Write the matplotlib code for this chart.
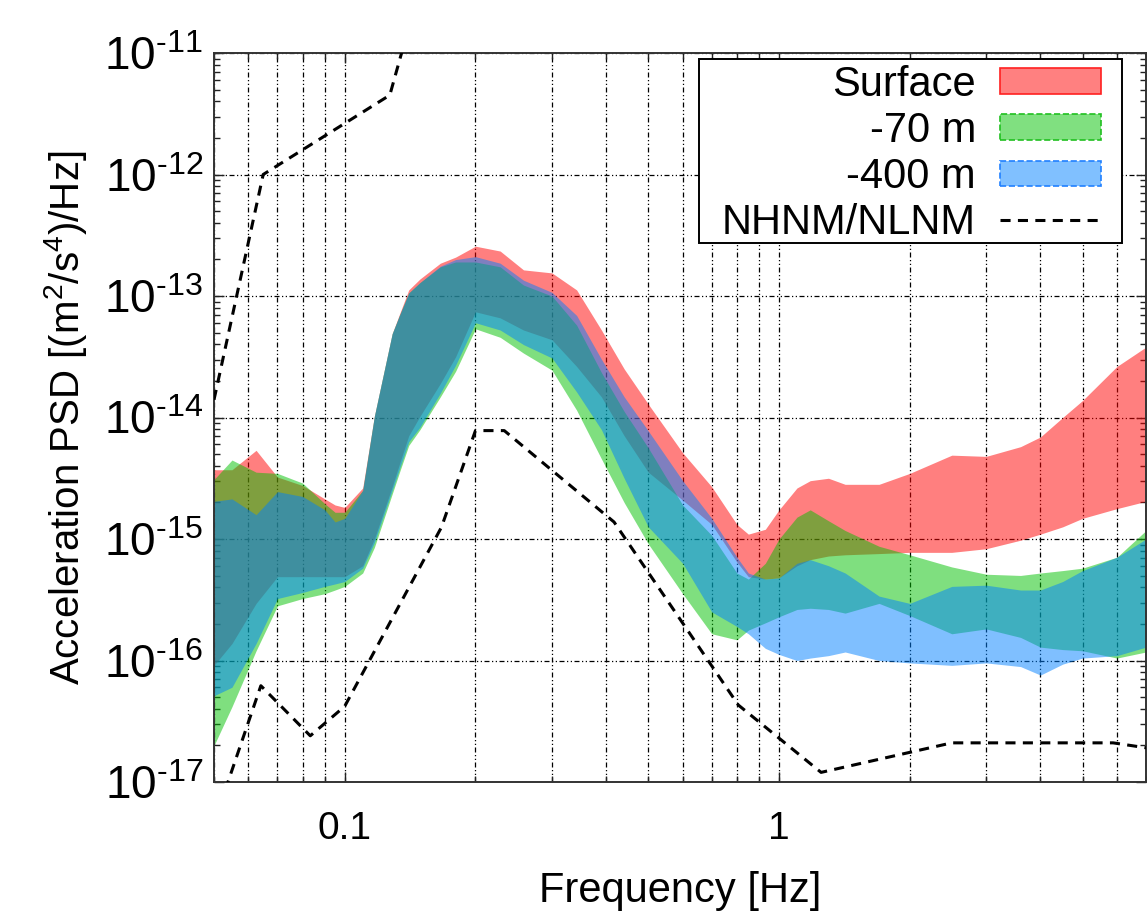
import numpy as np
import matplotlib
matplotlib.use("Agg")
import matplotlib.pyplot as plt
from matplotlib.patches import Patch, Rectangle
from matplotlib.lines import Line2D
from matplotlib.ticker import FixedLocator, NullFormatter, LogLocator

plt.rcParams['font.family'] = ['Liberation Sans', 'DejaVu Sans']
plt.rcParams['mathtext.fontset'] = 'custom'
plt.rcParams['mathtext.rm'] = 'Liberation Sans'
plt.rcParams['mathtext.it'] = 'Liberation Sans'

# ---------------- data (frequency in Hz, PSD given as log10 values) ----------------
freq = [0.05, 0.055, 0.0625, 0.07, 0.08, 0.09, 0.095, 0.1, 0.11, 0.117, 0.1286, 0.134,
        0.1404, 0.149, 0.166, 0.18, 0.2, 0.228, 0.258, 0.30, 0.342, 0.39, 0.44, 0.5,
        0.6, 0.7, 0.8, 0.85, 0.93, 1.0, 1.1, 1.18, 1.3, 1.42, 1.7, 2.0, 2.5, 3.0, 3.6,
        4.0, 4.5, 5.0, 6.0, 7.0]

surface_upper = [-14.43, -14.43, -14.27, -14.49, -14.56, -14.67, -14.72, -14.74, -14.58, -13.99,
                 -13.31, -13.14, -12.95, -12.86, -12.73, -12.68, -12.59, -12.63, -12.785, -12.81,
                 -12.95, -13.28, -13.60, -13.89, -14.29, -14.57, -14.88, -14.96, -14.92, -14.76,
                 -14.58, -14.52, -14.50, -14.55, -14.55, -14.46, -14.31, -14.32, -14.24, -14.16,
                 -14.00, -13.86, -13.58, -13.42]
surface_lower = [-16.04, -15.86, -15.53, -15.31, -15.31, -15.31, -15.31, -15.31, -15.22, -15.00,
                 -14.57, -14.37, -14.15, -13.99, -13.72, -13.50, -13.13, -13.18, -13.28, -13.36,
                 -13.58, -13.83, -14.15, -14.45, -14.68, -14.88, -15.19, -15.31, -15.33, -15.32,
                 -15.22, -15.17, -15.14, -15.13, -15.12, -15.11, -15.11, -15.08, -15.01, -14.96,
                 -14.90, -14.83, -14.75, -14.69]

m70_upper = [-14.51, -14.35, -14.45, -14.46, -14.54, -14.71, -14.78, -14.78, -14.60, -13.99,
             -13.31, -13.15, -12.975, -12.89, -12.76, -12.72, -12.72, -12.76, -12.91, -13.00,
             -13.24, -13.63, -13.95, -14.25, -14.72, -14.97, -15.28, -15.33, -15.20, -15.00,
             -14.82, -14.76, -14.85, -14.93, -15.06, -15.13, -15.23, -15.29, -15.30, -15.28,
             -15.26, -15.24, -15.15, -14.93]
m70_lower = [-16.70, -16.38, -15.92, -15.55, -15.49, -15.45, -15.42, -15.39, -15.28, -15.07,
             -14.63, -14.44, -14.23, -14.10, -13.83, -13.62, -13.27, -13.34, -13.47, -13.61,
             -13.94, -14.34, -14.70, -15.04, -15.45, -15.78, -15.83, -15.75, -15.69, -15.64,
             -15.58, -15.57, -15.58, -15.61, -15.53, -15.63, -15.78, -15.74, -15.81, -15.89,
             -15.91, -15.92, -15.98, -15.93]

m400_upper = [-14.69, -14.67, -14.80, -14.61, -14.65, -14.76, -14.86, -14.83, -14.60, -13.99,
              -13.31, -13.15, -12.975, -12.89, -12.755, -12.70, -12.676, -12.73, -12.87, -12.97,
              -13.16, -13.52, -13.83, -14.11, -14.52, -14.83, -15.15, -15.28, -15.33, -15.32,
              -15.20, -15.17, -15.22, -15.28, -15.47, -15.53, -15.39, -15.38, -15.42, -15.42,
              -15.35, -15.26, -15.15, -15.00]
m400_lower = [-16.29, -16.22, -15.86, -15.49, -15.44, -15.39, -15.37, -15.35, -15.24, -15.03,
              -14.60, -14.41, -14.20, -14.08, -13.80, -13.57, -13.22, -13.28, -13.40, -13.51,
              -13.79, -14.10, -14.50, -14.90, -15.20, -15.60, -15.72, -15.78, -15.90, -15.95,
              -16.00, -15.98, -15.96, -15.93, -16.00, -16.02, -16.04, -16.02, -16.05, -16.12,
              -16.03, -15.98, -15.96, -15.89]

nhnm_freq = [0.05, 0.0649, 0.127, 0.159]
nhnm_psd = [1.4e-14, 1.0e-12, 4.5e-12, 8.0e-11]
nlnm_freq = [0.0457, 0.0641, 0.0833, 0.1, 0.167, 0.2, 0.233, 0.417, 0.806, 1.25, 2.5, 5.88, 10.0]
nlnm_psd = [1.8e-18, 6.2e-17, 2.4e-17, 4.2e-17, 1.25e-15, 7.8e-15, 7.8e-15, 1.38e-15,
            4.3e-17, 1.2e-17, 2.1e-17, 2.1e-17, 1.58e-17]

band_labels = ['Surface', '-70 m', '-400 m']
model_label = 'NHNM/NLNM'
ytick_values = [1e-17, 1e-16, 1e-15, 1e-14, 1e-13, 1e-12, 1e-11]
ytick_labels = ['10$^{\\text{-}17}$', '10$^{\\text{-}16}$', '10$^{\\text{-}15}$', '10$^{\\text{-}14}$',
                '10$^{\\text{-}13}$', '10$^{\\text{-}12}$', '10$^{\\text{-}11}$']
xtick_values = [0.1, 1]
xtick_labels = ['0.1', '1']

# ---------------- figure ----------------
W, H = 1147, 911
fig = plt.figure(figsize=(W / 100, H / 100), dpi=100)
ax = fig.add_axes([214 / W, 1 - 782 / H, (1146 - 214) / W, (782 - 53) / H])
ax.set_xscale('log')
ax.set_yscale('log')
ax.set_xlim(0.05, 7.0)
ax.set_ylim(1e-17, 1e-11)

f = np.array(freq)
face = {'Surface': '#ff0000', '-70 m': '#00c000', '-400 m': '#0080ff'}
bands = [(surface_lower, surface_upper), (m70_lower, m70_upper), (m400_lower, m400_upper)]
for lab, (lo, up) in zip(band_labels, bands):
    ax.fill_between(f, 10.0 ** np.array(lo), 10.0 ** np.array(up), color=face[lab],
                    alpha=0.5, lw=0, zorder=2)

dash = (0, (3.3, 2.4))
ax.plot(nhnm_freq, nhnm_psd, color='black', lw=2.2, linestyle=dash, zorder=3)
ax.plot(nlnm_freq, nlnm_psd, color='black', lw=2.2, linestyle=dash, zorder=3)

# ticks / grid
ax.set_axisbelow(True)
ax.xaxis.set_major_locator(FixedLocator(xtick_values))
ax.xaxis.set_minor_locator(LogLocator(base=10, subs=np.arange(2, 10)))
ax.xaxis.set_minor_formatter(NullFormatter())
ax.set_xticks(xtick_values)
ax.set_xticklabels(xtick_labels)
ax.set_yticks(ytick_values)
ax.set_yticklabels(ytick_labels)
ax.yaxis.set_minor_locator(LogLocator(base=10, subs=np.arange(2, 10)))
ax.yaxis.set_minor_formatter(NullFormatter())

gls = (0, (4, 2, 1, 2, 1, 2))
ax.grid(True, which='major', axis='both', color='black', lw=0.9, linestyle=gls)
ax.grid(True, which='minor', axis='x', color='black', lw=0.9, linestyle=gls)

ax.tick_params(which='both', direction='in', top=True, right=True, color='#222222',
               labelcolor='black')
ax.tick_params(which='major', length=7, width=1.0)
ax.tick_params(which='minor', length=4, width=1.0)
ax.tick_params(axis='y', which='major', labelsize=33, pad=8)
ax.tick_params(axis='x', which='major', labelsize=28, pad=21)
for s in ax.spines.values():
    s.set_linewidth(1.4)
    s.set_color('#333333')

ax.set_xlabel('Frequency [Hz]', fontsize=30)
ax.xaxis.set_label_coords(0.5, -0.122)
ax.set_ylabel('Acceleration PSD [(m$^2$/s$^4$)/Hz]', fontsize=29)
ax.yaxis.set_label_coords(-0.1345, 0.5)

# legend: frame drawn explicitly, entries via legend
frame = Rectangle((699 / W, 1 - 243 / H), (1122 - 699) / W, (243 - 59) / H,
                  transform=fig.transFigure, facecolor='white', edgecolor='black',
                  lw=1.4, zorder=4)
ax.add_patch(frame)
handles = [Patch(facecolor='#ff8080', edgecolor='#ff2020', lw=1.2, linestyle='-'),
           Patch(facecolor='#80e080', edgecolor='#20c020', lw=1.2, linestyle='--'),
           Patch(facecolor='#80c0ff', edgecolor='#2080ff', lw=1.2, linestyle='--'),
           Line2D([], [], color='black', lw=2.2, linestyle=dash)]
leg = ax.legend(handles, band_labels + [model_label], loc='upper right',
                bbox_to_anchor=(1101 / W, 1 - 65 / H), bbox_transform=fig.transFigure,
                markerfirst=False, fontsize=30, frameon=False,
                handlelength=2.42, handleheight=0.57, handletextpad=0.58,
                labelspacing=0.145, borderpad=0.0, borderaxespad=0)
leg.set_zorder(5)

fig.savefig('out.png', dpi=100)
